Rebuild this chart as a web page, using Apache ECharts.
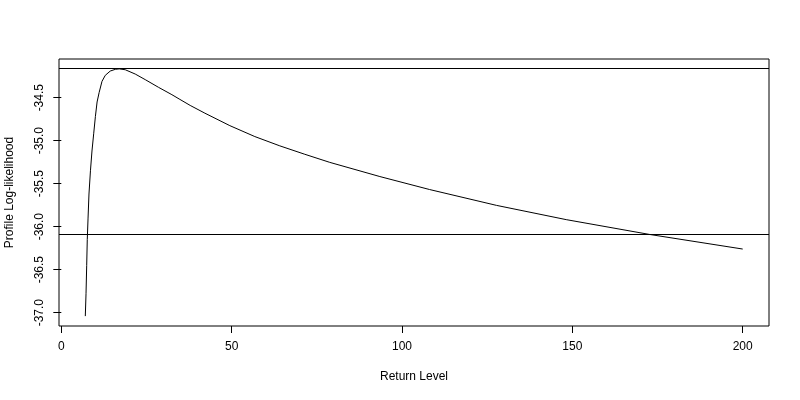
<!DOCTYPE html>
<html><head><meta charset="utf-8">
<script src="https://cdn.jsdelivr.net/npm/echarts@6/dist/echarts.min.js"></script>
<style>html,body{margin:0;padding:0;background:#fff}#c{width:800px;height:400px}</style>
</head><body><div id="c"></div>
<script>
const returnLevel = [7.04, 7.25, 7.45, 7.62, 7.85, 8.12, 8.55, 9.0, 9.5, 10.0, 10.5, 11.1, 11.94, 12.9, 14.37, 15.84, 17.0, 18.77, 21.7, 24.63, 28.56, 32.46, 34.81, 37.83, 42.14, 49.47, 56.8, 64.13, 71.47, 78.8, 93.5, 108.1, 127.7, 148.2, 172.6, 200];
const logLik = [-37.04, -36.78, -36.45, -36.15, -35.90, -35.62, -35.35, -35.12, -34.92, -34.72, -34.55, -34.44, -34.31, -34.24, -34.19, -34.17, -34.165, -34.175, -34.225, -34.29, -34.38, -34.465, -34.52, -34.59, -34.68, -34.825, -34.952, -35.06, -35.158, -35.252, -35.417, -35.568, -35.752, -35.918, -36.09, -36.26];
const xTicks = [0, 50, 100, 150, 200];
const yTicks = [-37.0, -36.5, -36.0, -35.5, -35.0, -34.5];
const maxLogLik = -34.165;
const ciLevel = -36.085;
const xTitle = 'Return Level';
const yTitle = 'Profile Log-likelihood';

const font = 'Liberation Sans, Arial, sans-serif';
const chart = echarts.init(document.getElementById('c'));
chart.setOption({
  animation: false,
  backgroundColor: '#fff',
  grid: { left: 59, right: 31, top: 59, bottom: 74, containLabel: false, outerBoundsMode: 'none',
    show: true, borderColor: '#000', borderWidth: 1, backgroundColor: 'transparent' },
  xAxis: {
    type: 'value', min: -0.68, max: 207.72,
    name: xTitle, nameLocation: 'middle', nameGap: 45,
    nameTextStyle: { color: '#000', fontSize: 12, fontFamily: font },
    axisLine: { show: false },
    axisTick: { show: true, length: 7, customValues: xTicks, lineStyle: { color: '#000' } },
    axisLabel: { customValues: xTicks, color: '#000', fontSize: 12, fontFamily: font, margin: 15 },
    splitLine: { show: false }
  },
  yAxis: {
    type: 'value', min: -37.155, max: -34.05,
    name: yTitle, nameLocation: 'middle', nameGap: 43,
    nameTextStyle: { color: '#000', fontSize: 12, fontFamily: font },
    axisLine: { show: false },
    axisTick: { show: true, length: 8, customValues: yTicks, lineStyle: { color: '#000' } },
    axisLabel: { customValues: yTicks, rotate: 90, color: '#000', fontSize: 12, fontFamily: font, margin: 13,
      formatter: v => Number(v).toFixed(1) },
    splitLine: { show: false }
  },
  series: [{
    type: 'line',
    data: returnLevel.map((x, i) => [x, logLik[i]]),
    showSymbol: false,
    smooth: false,
    lineStyle: { color: '#000', width: 1 },
    markLine: {
      silent: true, symbol: 'none', label: { show: false },
      lineStyle: { color: '#000', width: 1, type: 'solid' },
      data: [{ yAxis: maxLogLik }, { yAxis: ciLevel }]
    }
  }]
});
</script></body></html>
